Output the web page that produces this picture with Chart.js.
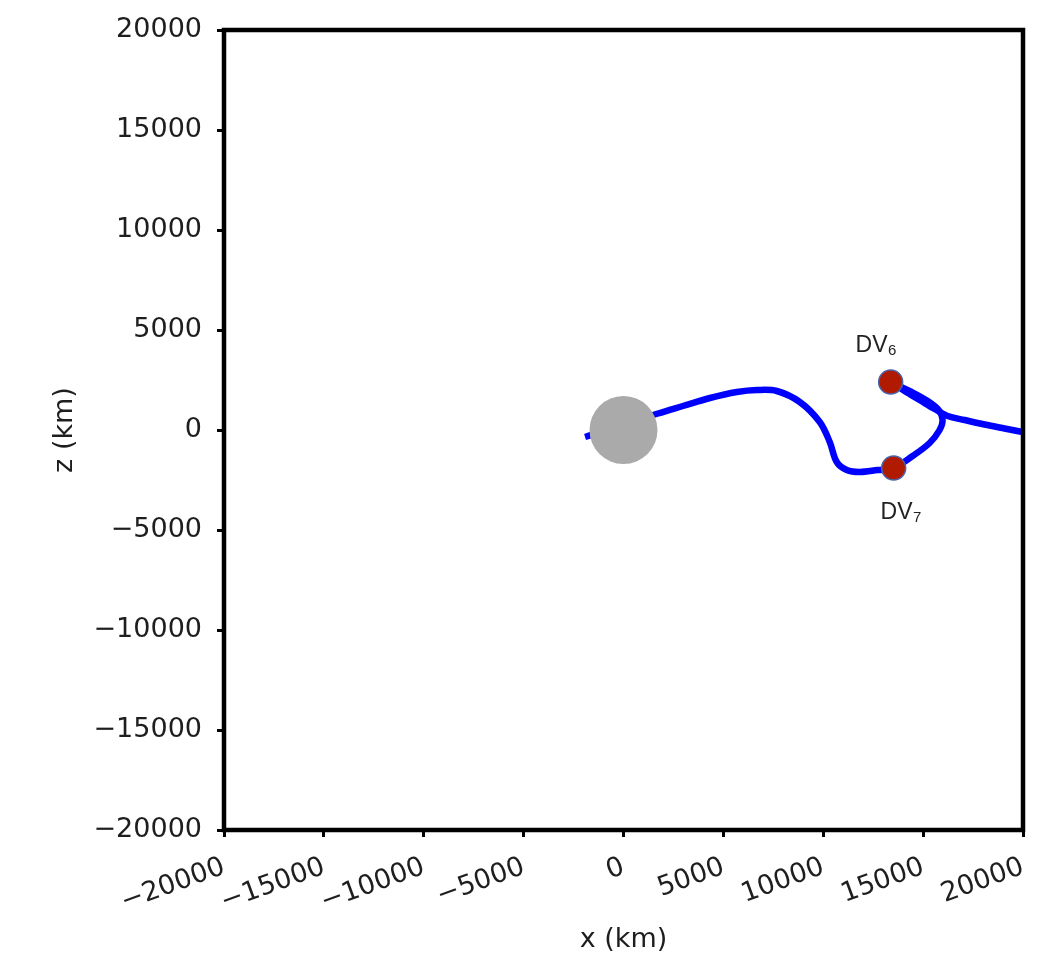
<!DOCTYPE html>
<html>
<head>
<meta charset="utf-8">
<script src="https://cdn.jsdelivr.net/npm/chart.js@4/dist/chart.umd.min.js"></script>
<style>
  html, body { margin: 0; padding: 0; background: #fff; }
  #wrap { width: 1042px; height: 956px; }
</style>
</head>
<body>
<div id="wrap"><canvas id="chart" width="1042" height="956"></canvas></div>
<script>
// trajectory in km (x, z)
// arc 1: from near the moon, through DV7, round the loop back to DV6
const arc1X = [-1925, 25, 1725, 2975, 4325, 5675, 6675, 7675, 8825, 9825, 10325, 10675, 11175, 11825, 12725, 13525, 14475, 15325, 15825, 15975, 15775, 15225, 14425, 13375];
const arc1Z = [-350, 250, 825, 1200, 1600, 1900, 2000, 1950, 1400, 400, -600, -1600, -2000, -2100, -2000, -1900, -1300, -650, 0, 500, 1000, 1450, 1900, 2400];
// arc 2: after DV6, heading out to the right
const arc2X = [13375, 14075, 14825, 15575, 16225, 17075, 18075, 19075, 19975, 20825];
const arc2Z = [2400, 1950, 1500, 1050, 700, 500, 275, 75, -100, -250];

// burns
const dvNames = ['DV', 'DV'];
const dvIndex = ['6', '7'];
const dvX = [13375, 13525];
const dvZ = [2400, -1900];

// moon centre
const moonX = [0];
const moonZ = [0];

const xTicks = [-20000, -15000, -10000, -5000, 0, 5000, 10000, 15000, 20000];
const yTicks = [-20000, -15000, -10000, -5000, 0, 5000, 10000, 15000, 20000];

const pts = (xs, zs) => xs.map((v, i) => ({ x: v, y: zs[i] }));
const fmt = v => (v < 0 ? '\u2212' + Math.abs(v) : String(v));

// label offsets from each marker, px: [dx of text centre, dy of baseline]
const dvLabelOffset = [[-15, -30], [7, 51]];

const frameAndLabels = {
    id: 'frameAndLabels',
    afterDatasetsDraw(chart) {
        const { ctx, chartArea: a, scales: { x, y } } = chart;
        ctx.save();
        ctx.lineWidth = 4.5;
        ctx.strokeStyle = '#000';
        ctx.strokeRect(a.left, a.top, a.right - a.left, a.bottom - a.top);

        ctx.fillStyle = '#222';
        ctx.textBaseline = 'alphabetic';
        dvNames.forEach((name, i) => {
            const mainFont = '23px "Liberation Sans", Arial, sans-serif';
            const subFont = '15px "Liberation Sans", Arial, sans-serif';
            ctx.font = mainFont;
            const w1 = ctx.measureText(name).width;
            ctx.font = subFont;
            const w2 = ctx.measureText(dvIndex[i]).width;
            const cx = x.getPixelForValue(dvX[i]) + dvLabelOffset[i][0];
            const by = y.getPixelForValue(dvZ[i]) + dvLabelOffset[i][1];
            const left = cx - (w1 + w2) / 2;
            ctx.font = mainFont;
            ctx.textAlign = 'left';
            ctx.fillText(name, left, by);
            ctx.font = subFont;
            ctx.fillText(dvIndex[i], left + w1 + 0.5, by + 3);
        });
        ctx.restore();
    }
};

Chart.defaults.font.family = '"DejaVu Sans", sans-serif';
Chart.defaults.font.size = 27;
Chart.defaults.color = '#1e1e1e';

new Chart(document.getElementById('chart'), {
    type: 'scatter',
    data: {
        datasets: [
            {
                label: 'burns',
                data: pts(dvX, dvZ),
                showLine: false,
                pointRadius: 12,
                pointBackgroundColor: '#b01a00',
                pointBorderColor: '#4a64a8',
                pointBorderWidth: 1.5,
                order: 0
            },
            {
                label: 'moon',
                data: pts(moonX, moonZ),
                showLine: false,
                pointRadius: 34,
                pointBackgroundColor: '#aaaaaa',
                pointBorderWidth: 0,
                order: 1
            },
            {
                label: 'arc1',
                data: pts(arc1X, arc1Z),
                showLine: true,
                tension: 0.35,
                borderColor: '#0000ff',
                borderWidth: 6.5,
                pointRadius: 0,
                order: 2
            },
            {
                label: 'arc2',
                data: pts(arc2X, arc2Z),
                showLine: true,
                tension: 0.35,
                borderColor: '#0000ff',
                borderWidth: 6.5,
                pointRadius: 0,
                order: 2
            }
        ]
    },
    options: {
        responsive: false,
        animation: false,
        devicePixelRatio: 1,
        layout: { autoPadding: false, padding: { left: 45, top: 30, right: 19, bottom: 0 } },
        plugins: { legend: { display: false }, tooltip: { enabled: false } },
        scales: {
            x: {
                type: 'linear',
                min: -20000,
                max: 20000,
                afterBuildTicks: s => { s.ticks = xTicks.map(v => ({ value: v })); },
                afterFit: s => { s.height = 126; s.paddingLeft = 0; s.paddingRight = 0; },
                grid: { drawOnChartArea: false, drawTicks: true, tickLength: 7, tickWidth: 3, tickColor: '#000' },
                border: { display: false },
                ticks: { minRotation: 20, maxRotation: 20, autoSkip: false, padding: 14, callback: fmt },
                title: { display: true, text: 'x (km)', padding: { top: 0, bottom: 0 } }
            },
            y: {
                type: 'linear',
                min: -20000,
                max: 20000,
                afterBuildTicks: s => { s.ticks = yTicks.map(v => ({ value: v })); },
                afterFit: s => { s.width = 179; s.paddingTop = 0; s.paddingBottom = 0; },
                grid: { drawOnChartArea: false, drawTicks: true, tickLength: 7, tickWidth: 3, tickColor: '#000' },
                border: { display: false },
                ticks: { autoSkip: false, padding: 15, callback: fmt },
                title: { display: true, text: 'z (km)', padding: { top: 4, bottom: 4 } }
            }
        }
    },
    plugins: [frameAndLabels]
});
</script>
</body>
</html>
